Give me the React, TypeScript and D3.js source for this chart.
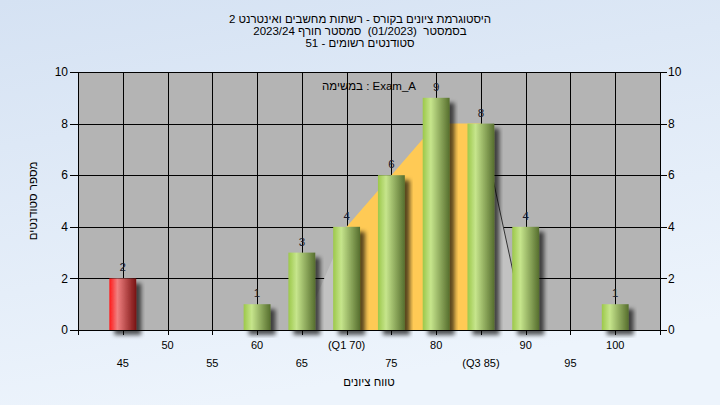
import * as d3 from 'd3';

// histogram bins (grade) and student counts
const grades = [45, 50, 55, 60, 65, 70, 75, 80, 85, 90, 95, 100];
const counts = [2, 0, 0, 1, 3, 4, 6, 9, 8, 4, 0, 1];
const failingGrades = [45];

// quartile band drawn behind the bars
const areaGrades = [65, 70, 75, 80, 85, 90];
const areaCounts = [0, 4, 6, 8, 8, 0];
const q1 = 70;
const q3 = 85;

const yTicks = [0, 2, 4, 6, 8, 10];
const xTicks = [45, 50, 55, 60, 65, 70, 75, 80, 85, 90, 95, 100];
const xTickLabels = ['45', '50', '55', '60', '65', '(Q1 70)', '75', '80', '(Q3 85)', '90', '95', '100'];

const titleLines = [
  'היסטוגרמת ציונים בקורס - רשתות מחשבים ואינטרנט 2',
  'בסמסטר  (01/2023)  סמסטר חורף 2023/24',
  'סטודנטים רשומים - 51',
];
const taskLabel = 'במשימה : Exam_A';
const xTitle = 'טווח ציונים';
const yTitle = 'מספר סטודנטים';

const width = 720;
const height = 405;
const marginLeft = 78;
const marginRight = 60;
const marginTop = 72;
const marginBottom = 75;
const font = '"Liberation Sans", Arial, sans-serif';
const fs = 11.5;

export default function App() {
  const x = d3.scaleLinear().domain([40, 105]).range([marginLeft, width - marginRight]);
  const y = d3.scaleLinear().domain([0, 10]).range([height - marginBottom, marginTop]);
  const barW = x(43) - x(40);

  const pts: [number, number][] = areaGrades.map((g, i) => [g, areaCounts[i]]);
  const area = d3.area<[number, number]>()
    .x((d) => x(d[0]))
    .y0(y(0))
    .y1((d) => y(d[1]));
  const line = d3.line<[number, number]>()
    .x((d) => x(d[0]))
    .y((d) => y(d[1]));
  const leftPart = pts.filter((d) => d[0] <= q1);
  const midPart = pts.filter((d) => d[0] >= q1 && d[0] <= q3);
  const rightPart = pts.filter((d) => d[0] >= q3);

  const [x0, x1] = x.range();
  const [y0, y1] = y.range();

  return (
    <svg width={width} height={height} style={{ position: 'absolute', left: 0, top: 0 }} fontFamily={font}>
      <defs>
        <linearGradient id="bg" x1="0" y1="0" x2="0.3" y2="1">
          <stop offset="0%" stopColor="#d5e2f3" />
          <stop offset="100%" stopColor="#edf4fc" />
        </linearGradient>
        <linearGradient id="green" x1="0" x2="1" y1="0" y2="0">
          <stop offset="0%" stopColor="#9cc84a" />
          <stop offset="30%" stopColor="#c6e58c" />
          <stop offset="100%" stopColor="#566e2e" />
        </linearGradient>
        <linearGradient id="red" x1="0" x2="1" y1="0" y2="0">
          <stop offset="0%" stopColor="#ff1818" />
          <stop offset="30%" stopColor="#f08080" />
          <stop offset="100%" stopColor="#781010" />
        </linearGradient>
        <filter id="shadow" x="-30%" y="-30%" width="160%" height="160%">
          <feDropShadow dx="5" dy="5" stdDeviation="2" floodColor="#000" floodOpacity="0.65" />
        </filter>
      </defs>
      <rect width={width} height={height} fill="url(#bg)" />

      {/* titles */}
      {titleLines.map((t, i) => (
        <text key={i} x={360} y={22.5 + i * 12} textAnchor="middle" fontSize={fs} fill="#000" direction="rtl" style={{ whiteSpace: 'pre' }}>{t}</text>
      ))}

      {/* plot area */}
      <rect x={x0} y={y1} width={x1 - x0} height={y0 - y1} fill="#b4b4b4" />
      <g stroke="#000" strokeWidth={1}>
        {yTicks.map((t) => (
          <line key={t} x1={x0} x2={x1} y1={Math.round(y(t)) + 0.5} y2={Math.round(y(t)) + 0.5} />
        ))}
        {xTicks.map((t) => (
          <line key={t} x1={Math.round(x(t)) + 0.5} x2={Math.round(x(t)) + 0.5} y1={y1} y2={y0} />
        ))}
      </g>

      {/* quartile band */}
      <path d={area(leftPart)!} fill="#c2c2c2" />
      <path d={area(rightPart)!} fill="#c2c2c2" />
      <path d={line(rightPart.slice(0, 2))!} fill="none" stroke="#333" strokeWidth={1} />
      <path d={area(midPart)!} fill="#ffca55" />

      {/* bars */}
      {grades.map((g, i) => counts[i] > 0 && (
        <rect
          key={g}
          x={x(g) - barW / 2}
          width={barW}
          y={y(counts[i])}
          height={y(0) - y(counts[i])}
          fill={failingGrades.includes(g) ? 'url(#red)' : 'url(#green)'}
          filter="url(#shadow)"
        />
      ))}
      {grades.map((g, i) => counts[i] > 0 && (
        <text key={g} x={x(g)} y={y(counts[i]) - 7} textAnchor="middle" fontSize={fs} fill="#1a1a2a">{counts[i]}</text>
      ))}

      <text x={(x0 + x1) / 2} y={90} textAnchor="middle" fontSize={fs} fill="#000" direction="ltr">{taskLabel}</text>

      {/* axes */}
      <g stroke="#000" strokeWidth={1}>
        <line x1={x0 + 0.5} x2={x0 + 0.5} y1={y1} y2={y0 + 5} />
        <line x1={x1 + 0.5} x2={x1 + 0.5} y1={y1} y2={y0 + 5} />
        <line x1={x0} x2={x1} y1={Math.round(y0) + 0.5} y2={Math.round(y0) + 0.5} />
        {yTicks.map((t) => (
          <g key={t}>
            <line x1={x0 - 8} x2={x0} y1={Math.round(y(t)) + 0.5} y2={Math.round(y(t)) + 0.5} />
            <line x1={x1} x2={x1 + 7} y1={Math.round(y(t)) + 0.5} y2={Math.round(y(t)) + 0.5} />
          </g>
        ))}
        {xTicks.map((t) => (
          <line key={t} x1={Math.round(x(t)) + 0.5} x2={Math.round(x(t)) + 0.5} y1={y0} y2={y0 + 5} />
        ))}
      </g>
      {yTicks.map((t) => (
        <g key={t} fontSize={12} fill="#000">
          <text x={x0 - 10} y={y(t)} dy="0.35em" textAnchor="end">{t}</text>
          <text x={x1 + 8} y={y(t)} dy="0.35em" textAnchor="start">{t}</text>
        </g>
      ))}
      {xTicks.map((t, i) => (
        <text key={t} x={x(t)} y={i % 2 === 1 ? 349 : 367} textAnchor="middle" fontSize={11} fill="#000" direction="ltr">{xTickLabels[i]}</text>
      ))}

      <text x={(x0 + x1) / 2} y={386} textAnchor="middle" fontSize={fs} fill="#000" direction="rtl">{xTitle}</text>
      <text transform={`translate(37,${(y0 + y1) / 2}) rotate(-90)`} textAnchor="middle" fontSize={fs} fill="#000" direction="rtl">{yTitle}</text>
    </svg>
  );
}
